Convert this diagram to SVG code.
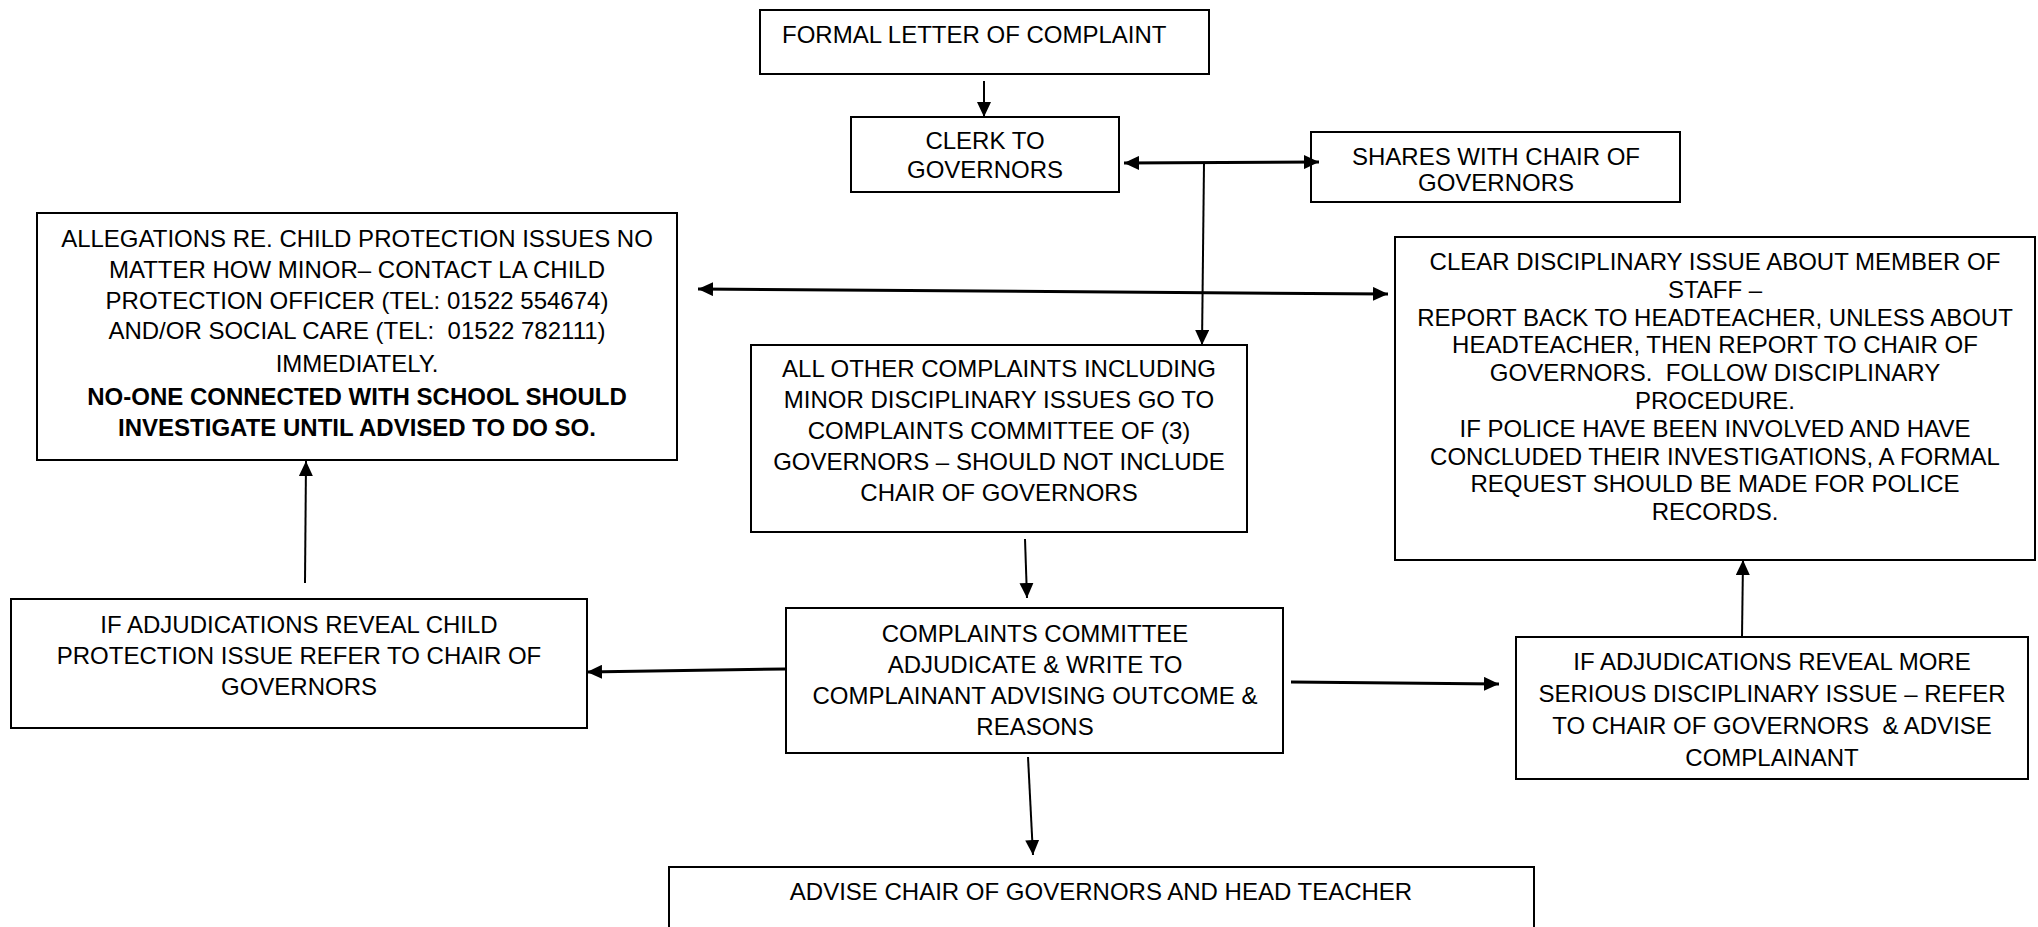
<svg xmlns="http://www.w3.org/2000/svg" width="2038" height="927" viewBox="0 0 2038 927">
<style>
  .box { fill: #ffffff; stroke: #000000; stroke-width: 2; }
  .t { font-family: "Liberation Sans", Arial, sans-serif; font-size: 24px; fill: #000000; text-anchor: middle; white-space: pre; }
  .b { font-weight: bold; }
  .ln { fill: none; stroke: #000000; stroke-width: 2; }
  .dbl { fill: none; stroke: #000000; stroke-width: 3; }
</style>
<defs>
  <marker id="ah" markerUnits="userSpaceOnUse" markerWidth="16" markerHeight="14" refX="15" refY="7" orient="auto-start-reverse">
    <path d="M0,0 L15,7 L0,14 z" fill="#000000"/>
  </marker>
</defs>
<rect x="0" y="0" width="2038" height="927" fill="#ffffff"/>

<g id="node-formal">
  <rect class="box" x="760" y="10" width="449" height="64"/>
  <text class="t" x="782" y="43" style="text-anchor:start">FORMAL LETTER OF COMPLAINT</text>
</g>

<g id="node-clerk">
  <rect class="box" x="851" y="117" width="268" height="75"/>
  <text class="t" x="985" y="149">CLERK TO</text>
  <text class="t" x="985" y="178">GOVERNORS</text>
</g>

<g id="node-shares">
  <rect class="box" x="1311" y="132" width="369" height="70"/>
  <text class="t" x="1496" y="165">SHARES WITH CHAIR OF</text>
  <text class="t" x="1496" y="191">GOVERNORS</text>
</g>

<g id="node-allegations">
  <rect class="box" x="37" y="213" width="640" height="247"/>
  <text class="t" x="357" y="247">ALLEGATIONS RE. CHILD PROTECTION ISSUES NO</text>
  <text class="t" x="357" y="278">MATTER HOW MINOR– CONTACT LA CHILD</text>
  <text class="t" x="357" y="309">PROTECTION OFFICER (TEL: 01522 554674)</text>
  <text class="t" x="357" y="339" xml:space="preserve">AND/OR SOCIAL CARE (TEL:  01522 782111)</text>
  <text class="t" x="357" y="372">IMMEDIATELY.</text>
  <text class="t b" x="357" y="405">NO-ONE CONNECTED WITH SCHOOL SHOULD</text>
  <text class="t b" x="357" y="436">INVESTIGATE UNTIL ADVISED TO DO SO.</text>
</g>

<g id="node-clear">
  <rect class="box" x="1395" y="237" width="640" height="323"/>
  <text class="t" x="1715" y="270">CLEAR DISCIPLINARY ISSUE ABOUT MEMBER OF</text>
  <text class="t" x="1715" y="298">STAFF –</text>
  <text class="t" x="1715" y="326">REPORT BACK TO HEADTEACHER, UNLESS ABOUT</text>
  <text class="t" x="1715" y="353">HEADTEACHER, THEN REPORT TO CHAIR OF</text>
  <text class="t" x="1715" y="381" xml:space="preserve">GOVERNORS.  FOLLOW DISCIPLINARY</text>
  <text class="t" x="1715" y="409">PROCEDURE.</text>
  <text class="t" x="1715" y="437">IF POLICE HAVE BEEN INVOLVED AND HAVE</text>
  <text class="t" x="1715" y="465">CONCLUDED THEIR INVESTIGATIONS, A FORMAL</text>
  <text class="t" x="1715" y="492">REQUEST SHOULD BE MADE FOR POLICE</text>
  <text class="t" x="1715" y="520">RECORDS.</text>
</g>

<g id="node-allother">
  <rect class="box" x="751" y="345" width="496" height="187"/>
  <text class="t" x="999" y="377">ALL OTHER COMPLAINTS INCLUDING</text>
  <text class="t" x="999" y="408">MINOR DISCIPLINARY ISSUES GO TO</text>
  <text class="t" x="999" y="439">COMPLAINTS COMMITTEE OF (3)</text>
  <text class="t" x="999" y="470">GOVERNORS – SHOULD NOT INCLUDE</text>
  <text class="t" x="999" y="501">CHAIR OF GOVERNORS</text>
</g>

<g id="node-committee">
  <rect class="box" x="786" y="608" width="497" height="145"/>
  <text class="t" x="1035" y="642">COMPLAINTS COMMITTEE</text>
  <text class="t" x="1035" y="673">ADJUDICATE &amp; WRITE TO</text>
  <text class="t" x="1035" y="704">COMPLAINANT ADVISING OUTCOME &amp;</text>
  <text class="t" x="1035" y="735">REASONS</text>
</g>

<g id="node-child">
  <rect class="box" x="11" y="599" width="576" height="129"/>
  <text class="t" x="299" y="633">IF ADJUDICATIONS REVEAL CHILD</text>
  <text class="t" x="299" y="664">PROTECTION ISSUE REFER TO CHAIR OF</text>
  <text class="t" x="299" y="695">GOVERNORS</text>
</g>

<g id="node-serious">
  <rect class="box" x="1516" y="637" width="512" height="142"/>
  <text class="t" x="1772" y="670">IF ADJUDICATIONS REVEAL MORE</text>
  <text class="t" x="1772" y="702">SERIOUS DISCIPLINARY ISSUE – REFER</text>
  <text class="t" x="1772" y="734" xml:space="preserve">TO CHAIR OF GOVERNORS  &amp; ADVISE</text>
  <text class="t" x="1772" y="766">COMPLAINANT</text>
</g>

<g id="node-advise">
  <rect class="box" x="669" y="867" width="865" height="80"/>
  <text class="t" x="1101" y="900">ADVISE CHAIR OF GOVERNORS AND HEAD TEACHER</text>
</g>

<g id="connectors">
  <line class="ln" x1="984" y1="81" x2="984" y2="117" marker-end="url(#ah)"/>
  <line class="dbl" x1="1124" y1="163" x2="1319" y2="162" marker-start="url(#ah)" marker-end="url(#ah)"/>
  <line class="ln" x1="1204" y1="163" x2="1202" y2="345" marker-end="url(#ah)"/>
  <line class="dbl" x1="698" y1="289" x2="1388" y2="294" marker-start="url(#ah)" marker-end="url(#ah)"/>
  <line class="ln" x1="1025" y1="539" x2="1027" y2="598" marker-end="url(#ah)"/>
  <line class="dbl" x1="785" y1="669" x2="587" y2="672" marker-end="url(#ah)"/>
  <line class="ln" x1="305" y1="583" x2="306" y2="461" marker-end="url(#ah)"/>
  <line class="dbl" x1="1291" y1="682" x2="1499" y2="684" marker-end="url(#ah)"/>
  <line class="ln" x1="1742" y1="637" x2="1743" y2="560" marker-end="url(#ah)"/>
  <line class="ln" x1="1028" y1="757" x2="1033" y2="855" marker-end="url(#ah)"/>
</g>
</svg>
